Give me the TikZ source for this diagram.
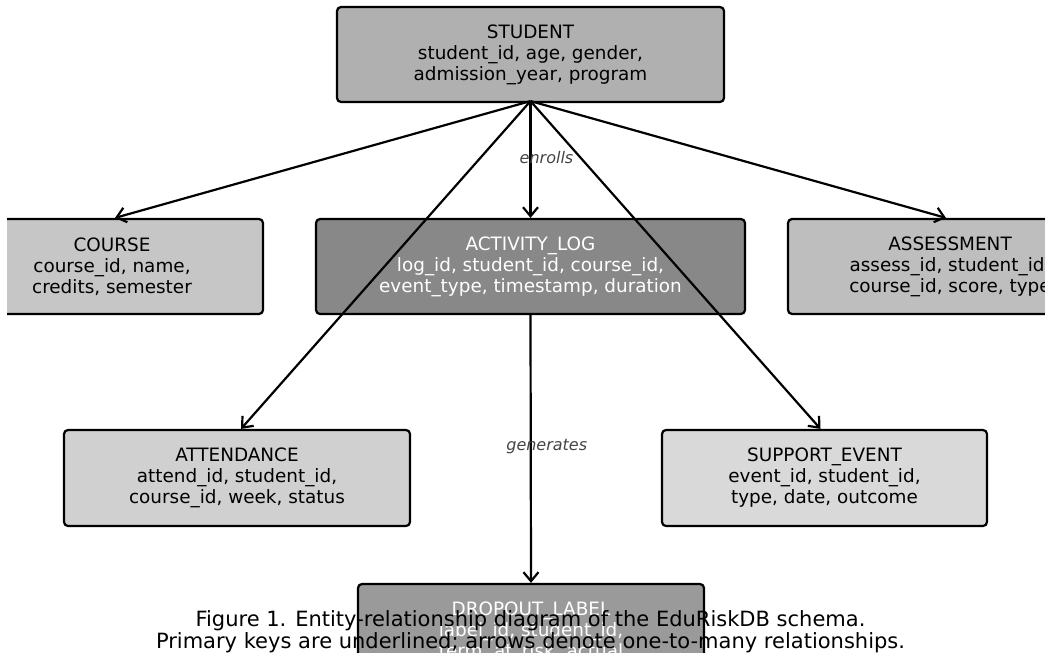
\documentclass[tikz,border=0pt]{standalone}
\usepackage{fontspec}
\setmainfont{DejaVu Sans}
\usetikzlibrary{arrows.meta}
\definecolor{cStudent}{HTML}{B0B0B0}
\definecolor{cCourse}{HTML}{C6C6C6}
\definecolor{cLog}{HTML}{888888}
\definecolor{cAssess}{HTML}{BEBEBE}
\definecolor{cAttend}{HTML}{D0D0D0}
\definecolor{cSupport}{HTML}{D9D9D9}
\definecolor{cDrop}{HTML}{9A9A9A}
\definecolor{cLabel}{HTML}{444444}
\tikzset{
  entity/.style={draw=black, line width=2.2pt, rounded corners=4pt, align=center,
    minimum height=95pt, inner sep=0pt,
    font=\fontsize{18.4}{21}\selectfont},
  rel/.style={line width=2.2pt, -{Straight Barb[length=9pt,width=15pt,line width=2.2pt]}},
  rellabel/.style={font=\fontsize{16}{19}\selectfont\itshape, text=cLabel},
  caption/.style={align=center, font=\fontsize{21}{22}\selectfont, text=black}
}
\begin{document}
\begin{tikzpicture}[x=1pt,y=-1pt]
\useasboundingbox (0,0) rectangle (1045,653);
\begin{scope}
\clip (7,0) rectangle (1045,653);
\node[entity, fill=cStudent, minimum width=387pt] (student) at (530.5,54.5)
  {STUDENT\\student\_id, age, gender,\\admission\_year, program};
\node[entity, fill=cCourse, minimum width=302pt] (course) at (112,266.5)
  {COURSE\\course\_id, name,\\credits, semester};
\node[entity, fill=cLog, text=white, minimum width=429pt] (log) at (530.5,266.5)
  {ACTIVITY\_LOG\\log\_id, student\_id, course\_id,\\event\_type, timestamp, duration};
\node[entity, fill=cAssess, minimum width=324pt] (assess) at (950,266.5)
  {ASSESSMENT\\assess\_id, student\_id,\\course\_id, score, type};
\node[entity, fill=cAttend, minimum width=346pt, minimum height=96pt] (attend) at (237,478)
  {ATTENDANCE\\attend\_id, student\_id,\\course\_id, week, status};
\node[entity, fill=cSupport, minimum width=325pt, minimum height=96pt] (support) at (824.5,478)
  {SUPPORT\_EVENT\\event\_id, student\_id,\\type, date, outcome};
\node[entity, fill=cDrop, text=white, minimum width=346pt] (drop) at (531,631.5)
  {DROPOUT\_LABEL\\label\_id, student\_id,\\term, at\_risk, actual};

\coordinate (s0) at ([yshift=2pt]student.south);
\draw[rel] (s0) -- ([xshift=3pt]course.north);
\draw[rel] (s0) -- node[rellabel, xshift=16pt, yshift=2pt] {enrolls} (log.north);
\draw[rel] (s0) -- ([xshift=-4pt]assess.north);
\draw[rel] (s0) -- ([xshift=4pt]attend.north);
\draw[rel] (s0) -- ([xshift=-4pt]support.north);
\draw[rel] (log.south) -- node[rellabel, xshift=16pt, yshift=2pt] {generates} (drop.north);

\node[caption] (cap) at (530.5,631.5)
  {Figure 1. Entity-relationship diagram of the EduRiskDB schema.\\Primary keys are underlined; arrows denote one-to-many relationships.};
\end{scope}
\end{tikzpicture}
\end{document}
